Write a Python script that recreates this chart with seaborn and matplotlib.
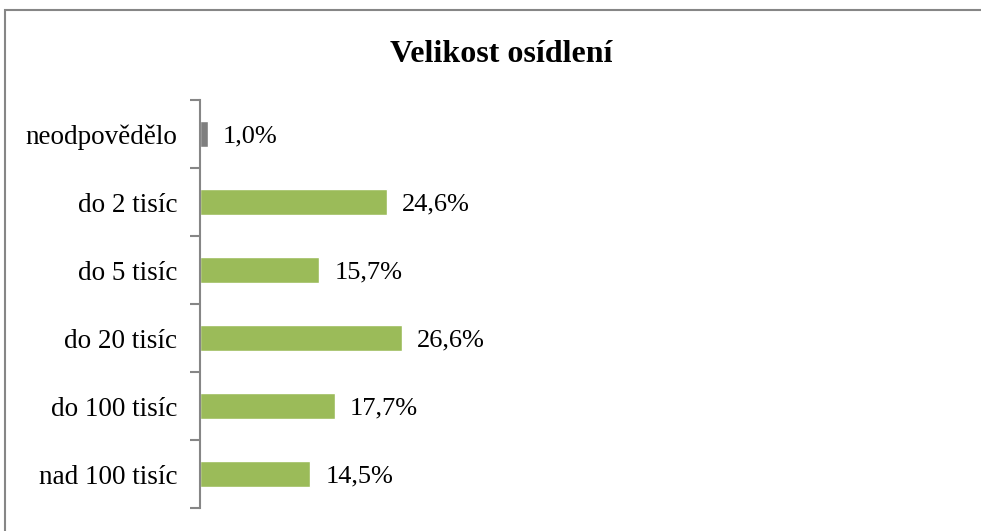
import matplotlib.pyplot as plt
import seaborn as sns
import pandas as pd
from matplotlib.patches import Rectangle

sns.set_theme(style="white")
plt.rcParams['font.family'] = ['Liberation Serif', 'DejaVu Serif']

categories = ['neodpovědělo', 'do 2 tisíc', 'do 5 tisíc', 'do 20 tisíc', 'do 100 tisíc', 'nad 100 tisíc']
values = [1.0, 24.6, 15.7, 26.6, 17.7, 14.5]
colors = ['#7F7F7F', '#9BBB59', '#9BBB59', '#9BBB59', '#9BBB59', '#9BBB59']

df = pd.DataFrame({'kategorie': categories, 'podil': values})

fig = plt.figure(figsize=(9.81, 5.31), dpi=100)
ax = fig.add_axes([200 / 981, 1 - 508 / 531, 760 / 981, 408 / 531])

sns.barplot(data=df, y='kategorie', x='podil', hue='kategorie', palette=colors,
            legend=False, width=0.39, ax=ax, saturation=1)

for i, v in enumerate(values):
    ax.text(v + 2.0, i, f'{v:.1f}%'.replace('.', ','), va='center_baseline', ha='left',
            fontsize=19, color='black')

ax.set_xlim(0, 100)
ax.set_ylim(len(categories) - 0.5, -0.5)
ax.set_xlabel('')
ax.set_ylabel('')
ax.set_xticks([])
for s in ['top', 'right', 'bottom']:
    ax.spines[s].set_visible(False)
ax.spines['left'].set_color('#868686')
ax.spines['left'].set_linewidth(1.5)
ax.tick_params(axis='y', which='major', length=0, pad=16.5, labelsize=19.5, labelcolor='black')
for lbl in ax.get_yticklabels():
    lbl.set_verticalalignment('center_baseline')
ax.set_yticks([i - 0.5 for i in range(len(categories) + 1)], minor=True)
ax.tick_params(axis='y', which='minor', length=7, width=1.5, color='#868686', direction='out', left=True)

fig.text(501 / 981, 1 - 54 / 531, 'Velikost osídlení', ha='center', va='center',
         fontsize=23, fontweight='bold', color='black')

fig.patches.append(Rectangle((5 / 981, -0.1), 1.2, 1 - 10 / 531 + 0.1, transform=fig.transFigure,
                             fill=False, edgecolor='#868686', linewidth=1.5))

fig.savefig('out.png', dpi=100)
